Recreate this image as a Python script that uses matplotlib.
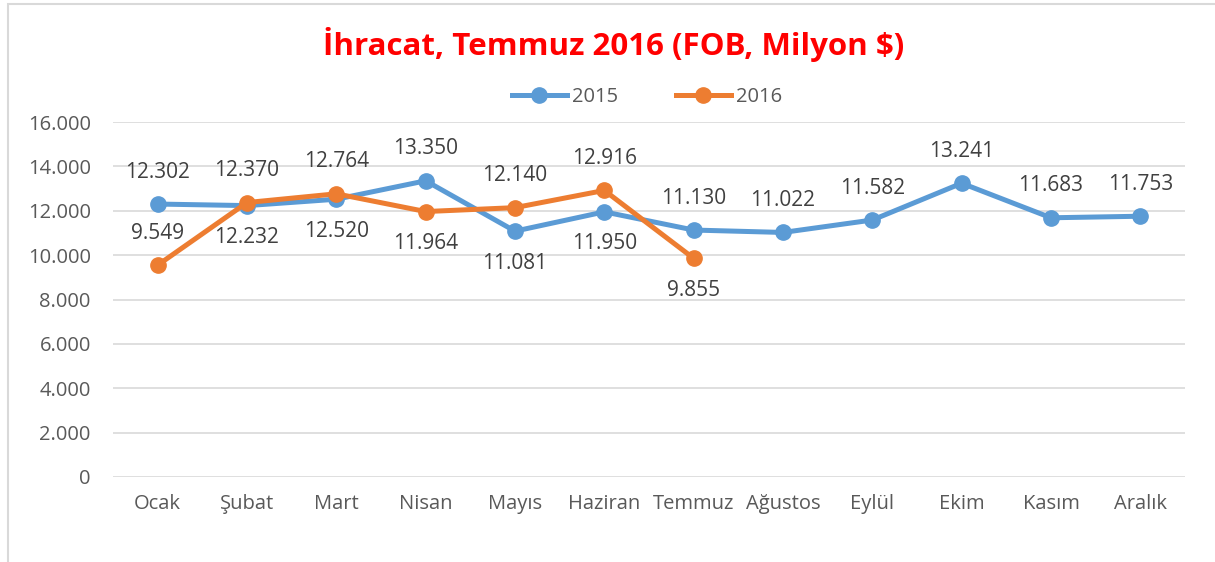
import matplotlib.pyplot as plt
from matplotlib.patches import Rectangle

months = ['Ocak', 'Şubat', 'Mart', 'Nisan', 'Mayıs', 'Haziran', 'Temmuz',
          'Ağustos', 'Eylül', 'Ekim', 'Kasım', 'Aralık']
exp2015 = [12302, 12232, 12520, 13350, 11081, 11950, 11130, 11022, 11582, 13241, 11683, 11753]
exp2016 = [9549, 12370, 12764, 11964, 12140, 12916, 9855]
# label above (+1) or below (-1) the point
pos2015 = [1, -1, -1, 1, -1, -1, 1, 1, 1, 1, 1, 1]
pos2016 = [1, 1, 1, -1, 1, 1, -1]
yticks = [0, 2000, 4000, 6000, 8000, 10000, 12000, 14000, 16000]


def fmt(v):
    return '{:,}'.format(v).replace(',', '.')


plt.rcParams['font.family'] = ['Open Sans', 'DejaVu Sans']
blue = '#5B9BD5'
orange = '#ED7D31'
grey = '#595959'

fig = plt.figure(figsize=(12.15, 5.62), dpi=100)
fig.patches.append(Rectangle((8 / 1215, -0.01), 1.1, 1 - 4 / 562 + 0.01, transform=fig.transFigure,
                             fill=False, edgecolor='#D9D9D9', linewidth=1.5))
ax = fig.add_axes([113 / 1215, 1 - 477 / 562, (1185 - 113) / 1215, (477 - 122) / 562])

x15 = list(range(len(exp2015)))
x16 = list(range(len(exp2016)))
ax.plot(x15, exp2015, color=blue, linewidth=3.6, marker='o', markersize=11, label='2015', zorder=3)
ax.plot(x16, exp2016, color=orange, linewidth=3.6, marker='o', markersize=11, label='2016', zorder=4)

for xs, ys, ps in [(x15, exp2015, pos2015), (x16, exp2016, pos2016)]:
    for a, b, p in zip(xs, ys, ps):
        ax.annotate(fmt(b), (a, b), xytext=(0, 23 * p), textcoords='offset points',
                    ha='center', va='center', fontsize=15, color='#404040')

ax.set_xlim(-0.5, len(months) - 0.5)
ax.set_ylim(0, 16000)
ax.set_yticks(yticks)
ax.set_yticklabels([fmt(v) for v in yticks])
ax.set_xticks(x15)
ax.set_xticklabels(months)
ax.tick_params(axis='both', length=0, labelsize=14.5, labelcolor=grey)
ax.tick_params(axis='y', pad=16)
ax.tick_params(axis='x', pad=12)
ax.grid(axis='y', color='#D9D9D9', linewidth=1.2)
ax.set_axisbelow(True)
for s in ax.spines.values():
    s.set_visible(False)

fig.text(614 / 1215, 1 - 45 / 562, 'İhracat, Temmuz 2016 (FOB, Milyon $)', ha='center', va='center',
         fontsize=22.5, fontweight='bold', color='#FF0000')
fig.legend(loc='center', bbox_to_anchor=(647 / 1215, 1 - 97 / 562), ncol=2, frameon=False,
           fontsize=14.5, handlelength=2.7, columnspacing=2.9, labelcolor=grey, handletextpad=0.25)

fig.savefig('out.png', dpi=100)
